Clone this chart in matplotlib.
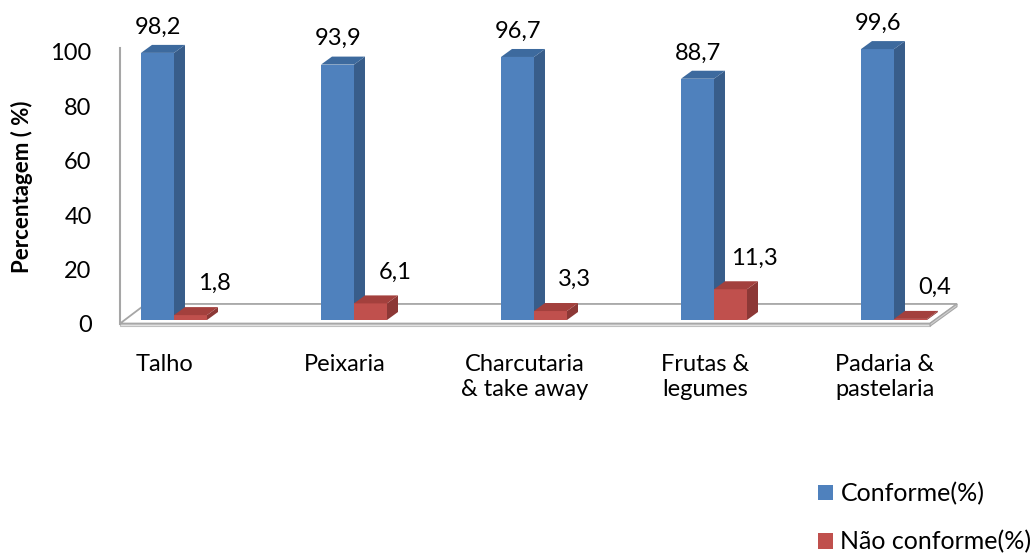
import numpy as np
import matplotlib
matplotlib.use('Agg')
import matplotlib.pyplot as plt
from matplotlib.patches import Polygon, Patch
from matplotlib.transforms import ScaledTranslation

plt.rcParams['font.family'] = ['Lato', 'DejaVu Sans']

# dados
categorias = ['Talho', 'Peixaria', 'Charcutaria\n& take away', 'Frutas &\nlegumes', 'Padaria &\npastelaria']
conforme = [98.2, 93.9, 96.7, 88.7, 99.6]
nao_conforme = [1.8, 6.1, 3.3, 11.3, 0.4]
rotulos_conf = ['98,2', '93,9', '96,7', '88,7', '99,6']
rotulos_nao = ['1,8', '6,1', '3,3', '11,3', '0,4']
yticks = [0, 20, 40, 60, 80, 100]

# cores (estilo Excel 3D)
azul = ('#4F81BD', '#385D8A', '#3D6A9E')   # frente, lado, topo
verm = ('#C0504D', '#8C3836', '#A3403D')

W, H = 1034, 558
fig = plt.figure(figsize=(W / 100, H / 100), dpi=100)
ax = fig.add_axes([100 / W, 1 - 330 / H, 900 / W, 320 / H])
ax.set_xlim((100 - 174) / 180, (1000 - 174) / 180)
ax.set_ylim(-10 / 2.72, 310 / 2.72)
for s in ax.spines.values():
    s.set_visible(False)

larg = 33 / 180
dx, dy = 11 / 180, 8 / 2.72
x = np.arange(len(categorias))

# chão
fy, by = -1.3, 5.9
chao = Polygon([(-0.30, fy), (4.20, fy), (4.35, by), (-0.156, by)], closed=True,
               facecolor='white', edgecolor='#A6A6A6', lw=1.3, zorder=1)
ax.add_patch(chao)
frente = Polygon([(-0.30, fy), (4.20, fy), (4.20, fy - 1.0), (-0.30, fy - 1.0)], closed=True,
                 facecolor='#E6E6E6', edgecolor='#BFBFBF', lw=0.8, zorder=1)
ax.add_patch(frente)
lado = Polygon([(4.20, fy), (4.35, by), (4.35, by - 1.0), (4.20, fy - 1.0)], closed=True,
               facecolor='#D0D0D0', edgecolor='#A6A6A6', lw=0.8, zorder=1)
ax.add_patch(lado)
ax.plot([-0.30, -0.30], [fy, 100], color='#A6A6A6', lw=1.5, zorder=1)


def barra3d(x0, h, cores, z):
    ax.bar(x0, h, width=larg, align='edge', color=cores[0], zorder=z)
    ax.add_patch(Polygon([(x0 + larg, 0), (x0 + larg + dx, dy), (x0 + larg + dx, h + dy), (x0 + larg, h)],
                         closed=True, facecolor=cores[1], edgecolor='none', zorder=z))
    ax.add_patch(Polygon([(x0, h), (x0 + dx, h + dy), (x0 + larg + dx, h + dy), (x0 + larg, h)],
                         closed=True, facecolor=cores[2], edgecolor='none', zorder=z))


for i in range(len(categorias)):
    barra3d(x[i] - larg, conforme[i], azul, 3)
    barra3d(x[i], nao_conforme[i], verm, 4)
    ax.text(x[i] - larg / 2 + 0.005, conforme[i] + 9.5, rotulos_conf[i],
            ha='center', va='center', fontsize=17, color='black')
    ax.text(x[i] + larg / 2 + 0.135, nao_conforme[i] + 11.5, rotulos_nao[i],
            ha='center', va='center', fontsize=17, color='black')

# eixos
ax.set_yticks(yticks)
ax.set_yticklabels([str(v) for v in yticks], fontsize=17)
ax.tick_params(axis='y', length=0, pad=6)
off = ScaledTranslation(0, -4 / 100, fig.dpi_scale_trans)
for lab in ax.get_yticklabels():
    lab.set_transform(lab.get_transform() + off)

ax.set_xticks(x - 0.05)
ax.set_xticklabels(categorias, fontsize=17, linespacing=1.25)
ax.tick_params(axis='x', length=0, pad=17)

fig.text(22 / W, 1 - 187 / H, 'Percentagem ( %)', rotation=90, ha='center', va='center',
         fontsize=16, fontweight='bold')

# legenda
handles = [Patch(facecolor=azul[0], label='Conforme(%)'),
           Patch(facecolor=verm[0], label='Não conforme(%)')]
fig.legend(handles=handles, loc='upper left', bbox_to_anchor=(818 / W, 1 - 482 / H),
           frameon=False, fontsize=18, handlelength=0.6, handleheight=0.6,
           handletextpad=0.3, labelspacing=1.0, borderpad=0, borderaxespad=0)

fig.savefig('out.png', dpi=100)
